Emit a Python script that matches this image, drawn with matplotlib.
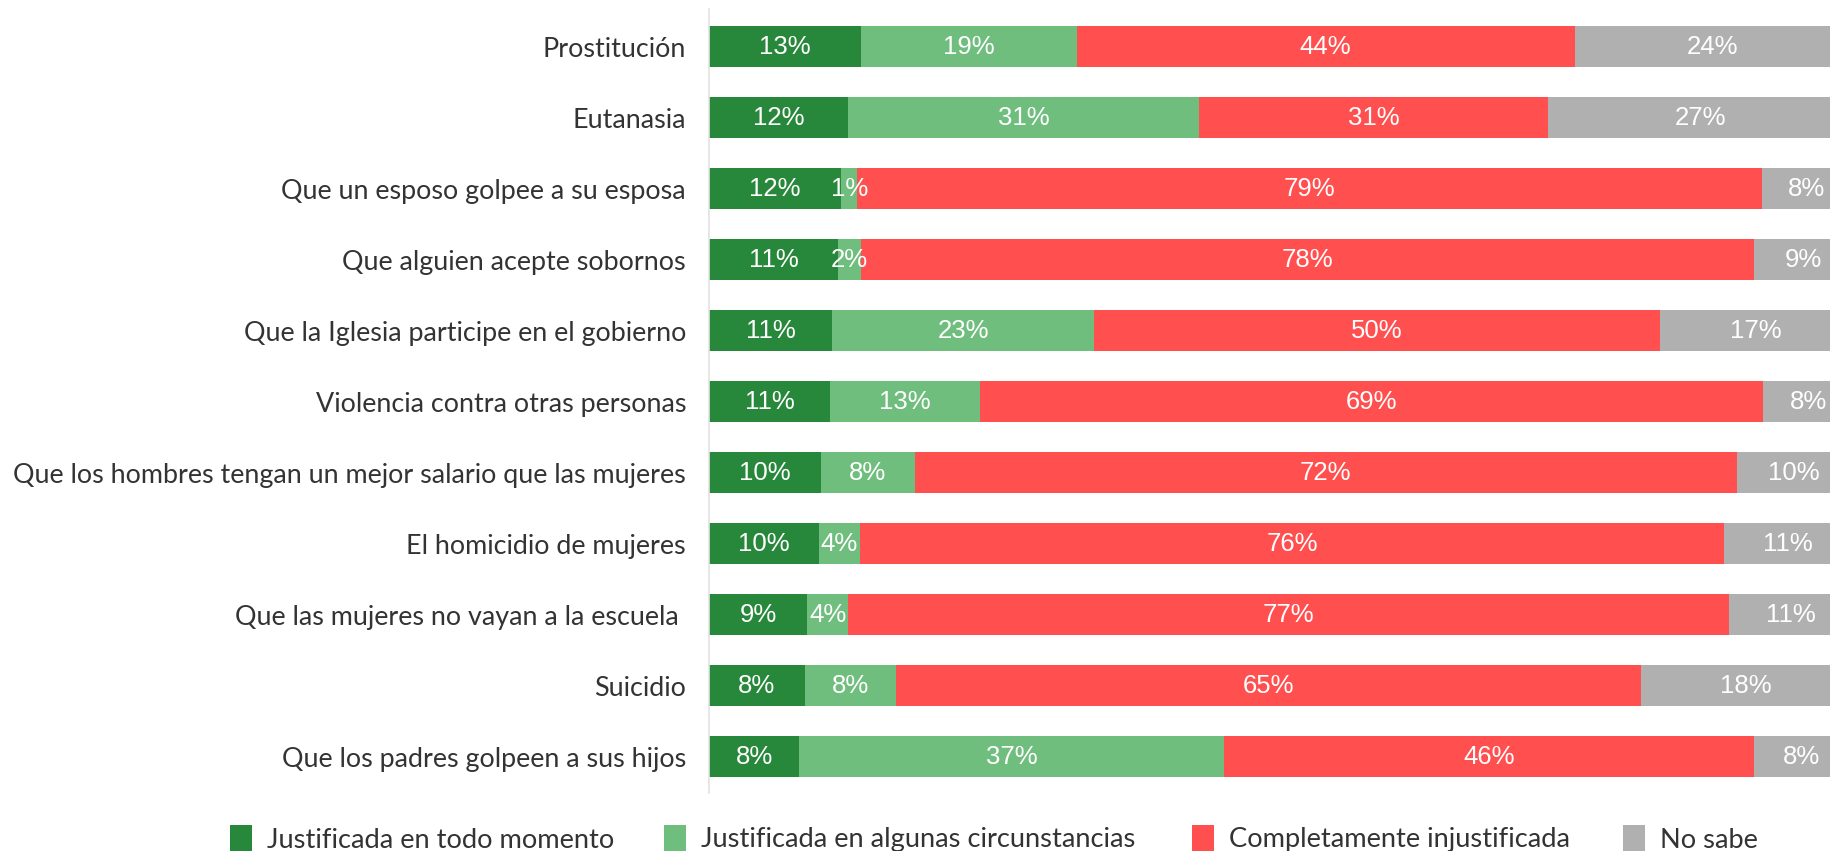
import matplotlib
matplotlib.use("Agg")
import matplotlib.pyplot as plt
from matplotlib.patches import Rectangle
import numpy as np

categories = [
    "Prostitución",
    "Eutanasia",
    "Que un esposo golpee a su esposa",
    "Que alguien acepte sobornos",
    "Que la Iglesia participe en el gobierno",
    "Violencia contra otras personas",
    "Que los hombres tengan un mejor salario que las mujeres",
    "El homicidio de mujeres",
    "Que las mujeres no vayan a la escuela ",
    "Suicidio",
    "Que los padres golpeen a sus hijos",
]

series_names = [
    "Justificada en todo momento",
    "Justificada en algunas circunstancias",
    "Completamente injustificada",
    "No sabe",
]

justificada_todo = [13.3, 12.2, 11.6, 11.3, 10.8, 10.6, 9.8, 9.6, 8.6, 8.4, 7.9]
justificada_algunas = [18.9, 30.7, 1.4, 2.0, 22.9, 13.1, 8.2, 3.6, 3.6, 8.0, 37.2]
injustificada = [43.6, 30.6, 79.2, 78.2, 49.6, 68.6, 72.0, 75.7, 77.1, 65.2, 46.4]
no_sabe = [24.2, 26.6, 7.8, 8.6, 16.8, 8.0, 10.0, 11.2, 10.8, 18.4, 8.4]

colors = ["#27873A", "#6FBE7E", "#FF4F4F", "#AFB0AF"]
text_font = ["Lato", "DejaVu Sans"]
text_color = "#333333"

W, H = 1831, 851
fig = plt.figure(figsize=(W / 100, H / 100), dpi=100)
ax = fig.add_axes([709 / W, 1 - 793 / H, 1142 / W, 784 / H])

data = [justificada_todo, justificada_algunas, injustificada, no_sabe]
y = np.arange(len(categories))
left = np.zeros(len(categories))
for vals, col in zip(data, colors):
    vals = np.array(vals)
    ax.barh(y, vals, left=left, height=0.577, color=col, linewidth=0)
    for yi, l, v in zip(y, left, vals):
        ax.text(l + v / 2, yi, f"{v:.0f}%", ha="center", va="center",
                color="white", fontsize=18.5, family=["Liberation Sans", "DejaVu Sans"])
    left = left + vals

ax.set_xlim(0, 100)
ax.set_ylim(10.507, -0.528)
ax.set_yticks(y)
ax.set_yticklabels(categories, fontsize=19.4, color=text_color,
                   family=text_font, fontweight="normal")
ax.tick_params(axis="y", length=0, pad=16.5)
ax.set_xticks([])
for s in ["top", "right", "bottom"]:
    ax.spines[s].set_visible(False)
ax.spines["left"].set_color("#e3e3e3")
ax.spines["left"].set_linewidth(1.2)

# legend drawn at measured positions
sq_x = [230, 664, 1192, 1623]
for x0, name, col in zip(sq_x, series_names, colors):
    fig.patches.append(Rectangle((x0 / W, 1 - 851 / H), 22 / W, 26 / H,
                                 transform=fig.transFigure, color=col, linewidth=0))
    fig.text((x0 + 37) / W, 1 - 840 / H, name, ha="left", va="center",
             fontsize=19.6, color=text_color, family=text_font,
             fontweight="normal")

fig.savefig("out.png", dpi=100)
